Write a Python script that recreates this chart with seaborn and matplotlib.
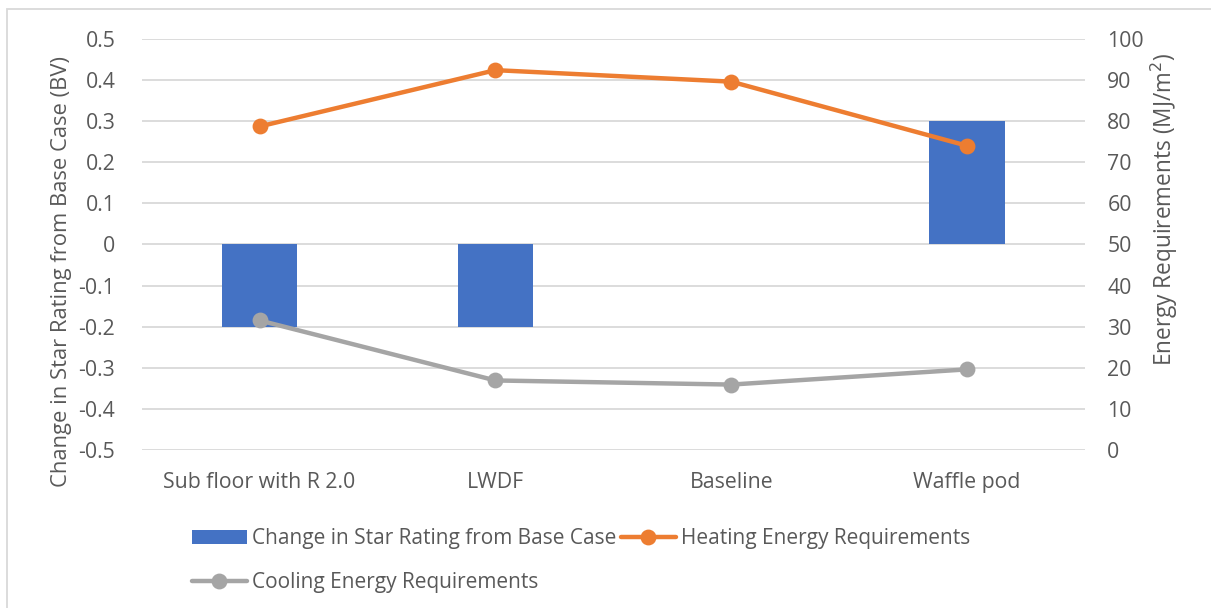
import matplotlib
matplotlib.use("Agg")
import matplotlib.pyplot as plt
from matplotlib.patches import Rectangle
import seaborn as sns
import pandas as pd

categories = ["Sub floor with R 2.0", "LWDF", "Baseline", "Waffle pod"]
star_change = [-0.2, -0.2, 0.0, 0.3]
heating = [78.7, 92.4, 89.6, 74.0]
cooling = [31.5, 16.9, 15.9, 19.6]

df = pd.DataFrame({"category": categories, "star": star_change,
                   "heating": heating, "cooling": cooling})

sns.set_theme(style="white")
plt.rcParams["font.family"] = ["Open Sans", "DejaVu Sans"]
text_color = "#595959"
grid_color = "#d9d9d9"
blue = "#4472c4"
orange = "#ed7d31"
gray = "#a5a5a5"
fs = 15.3

fig = plt.figure(figsize=(12.11, 6.08), dpi=100)
ax = fig.add_axes([0.117, 0.26, 0.779, 0.676])

sns.barplot(data=df, x="category", y="star", color=blue, width=0.32,
            saturation=1, linewidth=0, ax=ax,
            label="Change in Star Rating from Base Case")
ax.set_ylim(-0.5, 0.5)
ax.set_yticks([i / 10 for i in range(-5, 6)])
ax.set_yticklabels(["-0.5", "-0.4", "-0.3", "-0.2", "-0.1", "0",
                    "0.1", "0.2", "0.3", "0.4", "0.5"])
ax.set_xlim(-0.5, 3.5)
ax.yaxis.grid(True, color=grid_color, linewidth=1.3)
ax.set_axisbelow(True)
for s in ax.spines.values():
    s.set_visible(False)
ax.set_xlabel("")
ax.set_ylabel("Change in Star Rating from Base Case (BV)", color=text_color,
              fontsize=fs + 0.5)
ax.yaxis.set_label_coords(-0.074, 0.433)
ax.tick_params(axis="y", colors=text_color, labelsize=fs, length=0, pad=19)
ax.tick_params(axis="x", colors=text_color, labelsize=fs, length=0, pad=16)

ax2 = ax.twinx()
sns.pointplot(data=df, x="category", y="heating", color=orange, ax=ax2,
              markers="o", linestyles="-", markersize=9, linewidth=3.2,
              label="Heating Energy Requirements")
sns.pointplot(data=df, x="category", y="cooling", color=gray, ax=ax2,
              markers="o", linestyles="-", markersize=9, linewidth=3.2,
              label="Cooling Energy Requirements")
ax2.set_ylim(0, 100)
ax2.set_yticks(range(0, 101, 10))
ax2.set_xlim(-0.5, 3.5)
for s in ax2.spines.values():
    s.set_visible(False)
ax2.grid(False)
ax2.set_ylabel("Energy Requirements (MJ/m$^2$)", color=text_color,
               fontsize=fs + 1)
ax2.yaxis.set_label_coords(1.068, 0.586)
ax2.tick_params(axis="y", colors=text_color, labelsize=fs, length=0, pad=16)
ax2.set_xlabel("")

h1, l1 = ax.get_legend_handles_labels()
h2, l2 = ax2.get_legend_handles_labels()
handles = [h1[0], h2[1], h2[0]]
labels = [l1[0], l2[1], l2[0]]
if ax.get_legend():
    ax.get_legend().remove()
if ax2.get_legend():
    ax2.get_legend().remove()
fig.legend(handles, labels, ncol=2, loc="upper left",
           bbox_to_anchor=(0.152, 0.145), frameon=False, fontsize=15,
           labelcolor=text_color, handlelength=2.6, handletextpad=0.25,
           columnspacing=0.25, labelspacing=1.1, borderaxespad=0)

fig.patches.append(Rectangle((7 / 1211, -0.05), 1.1, 1 - 9 / 608 + 0.05,
                             transform=fig.transFigure, fill=False,
                             edgecolor="#d9d9d9", linewidth=1.3))

fig.savefig("out.png", dpi=100, facecolor="white")
